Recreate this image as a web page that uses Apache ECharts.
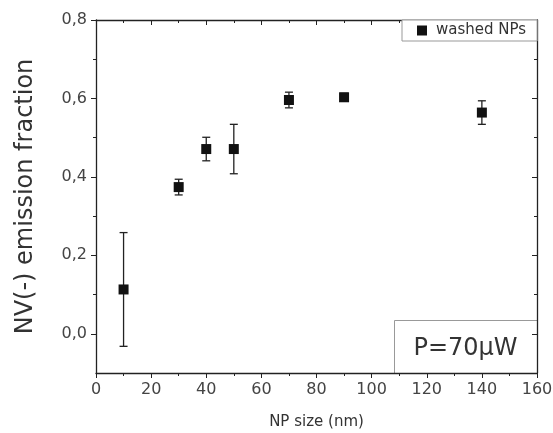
<!DOCTYPE html>
<html>
<head>
<meta charset="utf-8">
<script src="https://cdn.jsdelivr.net/npm/echarts@6/dist/echarts.min.js"></script>
<style>html,body{margin:0;padding:0;background:#fff}#c{width:553px;height:433px}</style>
</head>
<body>
<div id="c"></div>
<script>
var sizes = [10, 30, 40, 50, 70, 90, 140];
var fractions = [0.113, 0.374, 0.471, 0.471, 0.596, 0.603, 0.564];
var errors = [0.145, 0.020, 0.030, 0.063, 0.020, 0.010, 0.030];
var xTicks = [0, 20, 40, 60, 80, 100, 120, 140, 160];
var yTicks = [0.0, 0.2, 0.4, 0.6, 0.8];
var yMinorTicks = [0.1, 0.3, 0.5, 0.7];

var FONT = 'DejaVu Sans';
var pts = sizes.map(function (s, i) { return [s, fractions[i]]; });
var errData = sizes.map(function (s, i) { return [s, fractions[i] - errors[i], fractions[i] + errors[i]]; });
function fmt(v) { return v.toFixed(1).replace('.', ','); }

var chart = echarts.init(document.getElementById('c'), null, {renderer: 'canvas'});
var axisLine = {show: true, onZero: false, lineStyle: {color: '#222', width: 1.3}};
chart.setOption({
  animation: false,
  backgroundColor: '#fff',
  grid: {left: 96, right: 16, top: 20, bottom: 60, containLabel: false, outerBoundsMode: 'none'},
  legend: {
    left: 402, top: 20,
    padding: [3, 11, 3, 15],
    backgroundColor: '#fff',
    borderColor: '#999', borderWidth: 1, borderRadius: 0,
    itemWidth: 10, itemHeight: 10,
    textStyle: {fontFamily: FONT, fontSize: 15, color: '#333', padding: [0, 0, 0, 4]},
    data: [{name: 'washed NPs', icon: 'rect', itemStyle: {color: '#111', opacity: 1}}]
  },
  xAxis: [{
    type: 'value', min: 0, max: 160, interval: 20, position: 'bottom',
    name: 'NP size (nm)', nameLocation: 'middle', nameGap: 42,
    nameTextStyle: {fontFamily: FONT, fontSize: 15, color: '#333'},
    axisLine: axisLine,
    axisTick: {show: true, inside: false, length: 5, lineStyle: {color: '#222'}},
    minorTick: {show: true, splitNumber: 2, length: 3, lineStyle: {color: '#222'}},
    axisLabel: {fontFamily: FONT, fontSize: 16, color: '#444', margin: 9,
      customValues: xTicks},
    splitLine: {show: false}
  }, {
    type: 'value', min: 0, max: 160, interval: 20, position: 'top',
    axisLine: axisLine,
    axisTick: {show: true, inside: true, length: 5, lineStyle: {color: '#222'}},
    minorTick: {show: true, splitNumber: 2, length: 3, lineStyle: {color: '#222'}},
    axisLabel: {show: false}, splitLine: {show: false}
  }],
  yAxis: [{
    type: 'value', min: -0.1, max: 0.8, interval: 0.1, position: 'left',
    name: 'NV(-) emission fraction', nameLocation: 'middle', nameGap: 58,
    nameTextStyle: {fontFamily: FONT, fontSize: 24, color: '#333'},
    axisLine: axisLine,
    axisTick: {show: true, inside: false, length: 5, customValues: yTicks, lineStyle: {color: '#222'}},
    axisLabel: {fontFamily: FONT, fontSize: 16, color: '#444', margin: 9,
      customValues: yTicks, formatter: fmt},
    splitLine: {show: false}
  }, {
    type: 'value', min: -0.1, max: 0.8, interval: 0.1, position: 'left',
    axisLine: {show: false, onZero: false},
    axisTick: {show: true, inside: false, length: 3, customValues: yMinorTicks, lineStyle: {color: '#222'}},
    axisLabel: {show: false}, splitLine: {show: false}
  }, {
    type: 'value', min: -0.1, max: 0.8, interval: 0.1, position: 'right',
    axisLine: axisLine,
    axisTick: {show: true, inside: true, length: 5, customValues: yTicks, lineStyle: {color: '#222'}},
    axisLabel: {show: false}, splitLine: {show: false}
  }, {
    type: 'value', min: -0.1, max: 0.8, interval: 0.1, position: 'right',
    axisLine: {show: false, onZero: false},
    axisTick: {show: true, inside: true, length: 3, customValues: yMinorTicks, lineStyle: {color: '#222'}},
    axisLabel: {show: false}, splitLine: {show: false}
  }],
  graphic: [{
    type: 'group', left: 394, top: 320,
    children: [{
      type: 'rect', shape: {x: 0, y: 0, width: 143, height: 53},
      style: {fill: '#fff', stroke: '#999', lineWidth: 1}
    }, {
      type: 'text', x: 71, y: 28,
      style: {text: 'P=70\u00b5W', fontFamily: FONT, fontSize: 24, fill: '#333',
        align: 'center', verticalAlign: 'middle'}
    }]
  }],
  series: [{
    type: 'custom', name: 'err', xAxisIndex: 0, yAxisIndex: 0,
    data: errData, silent: true, z: 2,
    renderItem: function (params, api) {
      var x = api.value(0);
      var lo = api.coord([x, api.value(1)]);
      var hi = api.coord([x, api.value(2)]);
      var w = 4;
      var st = {stroke: '#222', lineWidth: 1.3};
      return {type: 'group', children: [
        {type: 'line', shape: {x1: lo[0], y1: lo[1], x2: hi[0], y2: hi[1]}, style: st},
        {type: 'line', shape: {x1: lo[0] - w, y1: lo[1], x2: lo[0] + w, y2: lo[1]}, style: st},
        {type: 'line', shape: {x1: hi[0] - w, y1: hi[1], x2: hi[0] + w, y2: hi[1]}, style: st}
      ]};
    }
  }, {
    type: 'scatter', name: 'washed NPs', xAxisIndex: 0, yAxisIndex: 0,
    data: pts, symbol: 'rect', symbolSize: 10, z: 3,
    itemStyle: {color: '#111', opacity: 1}
  }]
});
</script>
</body>
</html>
